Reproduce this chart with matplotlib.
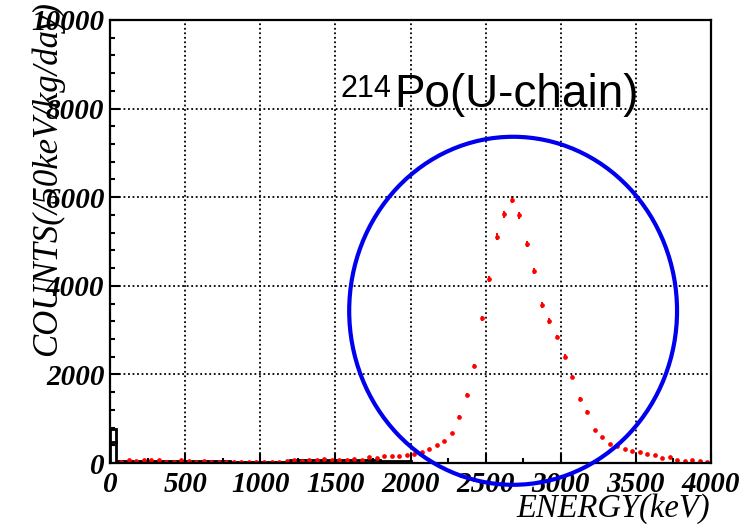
import matplotlib

matplotlib.use("Agg")
import matplotlib.pyplot as plt
from matplotlib.patches import Ellipse
import numpy as np

# red points: 50 keV bins (centre in keV), counts/50keV/kg/day
energy = [75, 125, 175, 225, 275, 325, 375, 425, 475, 525,
          575, 625, 675, 725, 775, 825, 875, 925, 975, 1025,
          1075, 1125, 1175, 1225, 1275, 1325, 1375, 1425, 1475, 1525,
          1575, 1625, 1675, 1725, 1775, 1825, 1875, 1925, 1975, 2025,
          2075, 2125, 2175, 2225, 2275, 2325, 2375, 2425, 2475, 2525,
          2575, 2625, 2675, 2725, 2775, 2825, 2875, 2925, 2975, 3025,
          3075, 3125, 3175, 3225, 3275, 3325, 3375, 3425, 3475, 3525,
          3575, 3625, 3675, 3725, 3775, 3825, 3875, 3925, 3975]
counts = [30, 68, 45, 68, 60, 68, 30, 15, 60, 53,
          30, 38, 15, 30, 22, 12, 12, 15, 15, 15,
          15, 30, 45, 68, 53, 68, 68, 90, 68, 68,
          75, 95, 75, 130, 105, 160, 165, 165, 180, 205,
          245, 310, 405, 490, 670, 1045, 1540, 2190, 3265, 4150,
          5110, 5615, 5940, 5590, 4935, 4340, 3565, 3205, 2845, 2400,
          1950, 1450, 1160, 745, 595, 430, 385, 325, 270, 250,
          210, 175, 120, 135, 75, 40, 60, 55, 25]
errors = [6, 8, 7, 8, 8, 8, 6, 4, 8, 7,
          6, 6, 4, 6, 5, 4, 4, 4, 4, 4,
          4, 6, 7, 8, 7, 8, 8, 10, 8, 8,
          9, 10, 9, 12, 10, 13, 13, 13, 14, 15,
          16, 18, 20, 22, 26, 32, 40, 48, 58, 65,
          72, 75, 78, 75, 70, 66, 60, 57, 54, 50,
          45, 38, 34, 28, 25, 21, 20, 18, 17, 16,
          15, 13, 11, 12, 9, 6, 8, 7, 5]

# black step histogram near the axis
bg_edges = [0, 40, 800, 1200, 1800, 2000]
bg_counts = [760, 55, 15, 70, 45]
bg_inner = 480

x_ticks = [0, 500, 1000, 1500, 2000, 2500, 3000, 3500, 4000]
y_ticks = [0, 2000, 4000, 6000, 8000, 10000]

# circle drawn round the peak (keV, counts)
ring_center = (2683, 3436)
ring_size = (2182, 7856)

serif = "Liberation Serif"
sans = "Liberation Sans"

fig = plt.figure(figsize=(7.49, 5.24), dpi=100)
ax = fig.add_axes([110 / 749, 1 - 463 / 524, 601 / 749, 443 / 524])

ax.set_xlim(0, 4000)
ax.set_ylim(0, 10000)

ax.grid(True, which="major", color="black", linestyle=(0, (1, 1.5)), linewidth=1.3)
ax.set_axisbelow(False)

ax.stairs(bg_counts, bg_edges, color="black", linewidth=2.0, baseline=0)
ax.plot([0, bg_edges[1]], [bg_inner, bg_inner], color="black", linewidth=2.0)

ax.errorbar(energy, counts, yerr=errors, fmt="o", color="red", markersize=3.4,
            elinewidth=1.4, capsize=0, markeredgewidth=0)

ax.add_patch(Ellipse(ring_center, ring_size[0], ring_size[1], fill=False,
                     edgecolor="#0000ee", linewidth=3.0, clip_on=False, zorder=5))

# label: small superscript mass number, then the isotope name
ax.text(1531, 8260, "214", fontsize=22, family=sans, va="baseline", ha="left")
ax.text(1895, 8040, "Po(U-chain)", fontsize=33, family=sans, va="baseline", ha="left")

ax.set_xticks(x_ticks)
ax.set_yticks(y_ticks)
ax.set_xticks(np.arange(0, 4001, 250), minor=True)
ax.set_yticks(np.arange(0, 10001, 400), minor=True)
ax.tick_params(which="both", direction="in", top=False, right=False)
ax.tick_params(which="major", length=7, width=1.5)
ax.tick_params(which="minor", length=3.5, width=1.5)
ax.tick_params(axis="x", pad=6)
ax.tick_params(axis="y", pad=4)
for lab in ax.get_xticklabels() + ax.get_yticklabels():
    lab.set_family(serif)
    lab.set_fontweight("bold")
    lab.set_style("italic")
    lab.set_fontsize(21)

for s in ax.spines.values():
    s.set_linewidth(1.6)

fig.text(47 / 749, 1 - 356 / 524, "COUNTS(/50keV/kg/day)", rotation=90, ha="center",
         va="bottom", family=serif, style="italic", fontsize=25)
fig.text(710 / 749, 1 - 493 / 524, "ENERGY(keV)", ha="right", va="top",
         family=serif, style="italic", fontsize=23.5)

fig.savefig("out.png", dpi=100)
